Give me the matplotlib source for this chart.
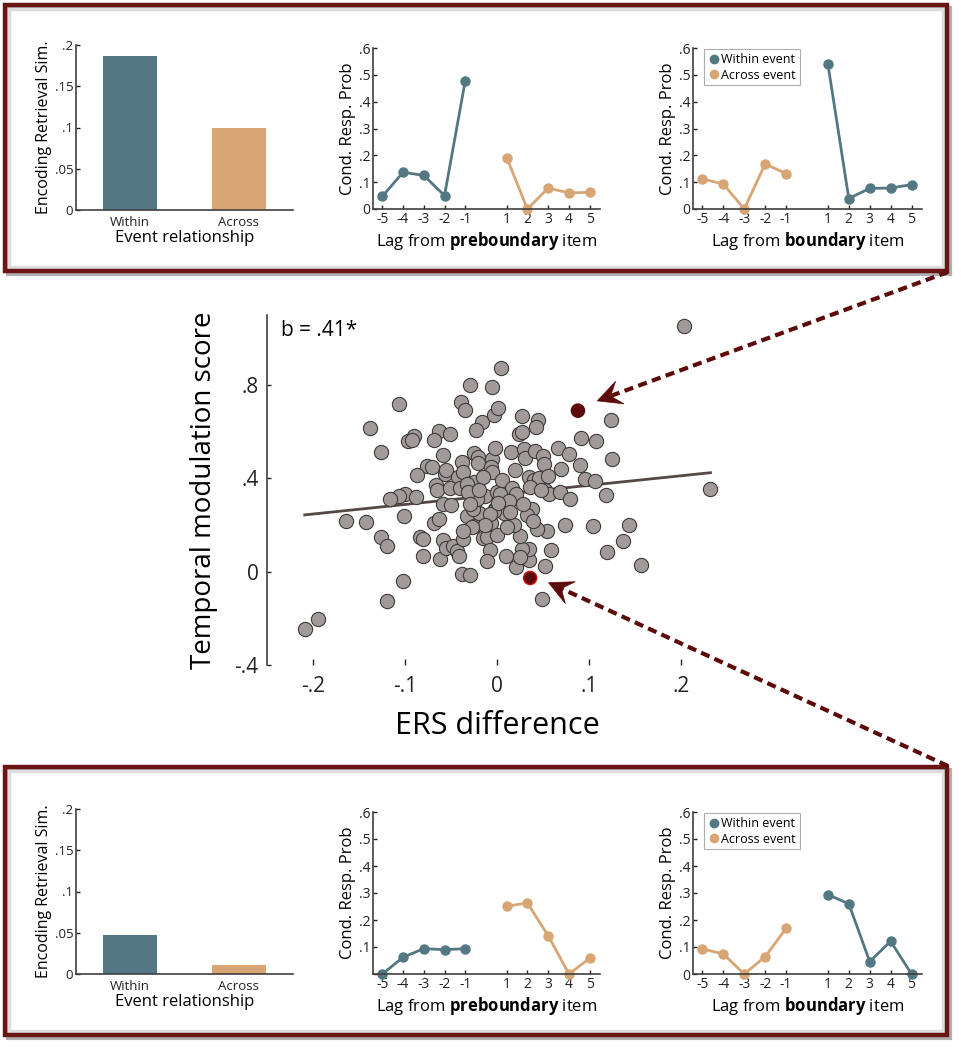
import matplotlib
matplotlib.use('Agg')
import matplotlib.pyplot as plt
from matplotlib.patches import Rectangle, Polygon
from matplotlib.lines import Line2D
from matplotlib.transforms import IdentityTransform
import numpy as np

plt.rcParams['font.family'] = ['Open Sans', 'DejaVu Sans']
plt.rcParams['mathtext.fontset'] = 'custom'
plt.rcParams['mathtext.rm'] = 'Open Sans'
plt.rcParams['mathtext.bf'] = 'Open Sans:bold'
plt.rcParams['axes.unicode_minus'] = False

W, H = 961, 1050

# ---- data ----
bar_labels = ['Within', 'Across']
ers_top = [0.187, 0.099]
ers_bottom = [0.047, 0.011]

lag_pre = [-5, -4, -3, -2, -1]
lag_post = [1, 2, 3, 4, 5]

# top row: preboundary CRP
crp_pre_within_top = [0.047, 0.137, 0.125, 0.050, 0.478]
crp_pre_across_top = [0.191, 0.000, 0.078, 0.060, 0.062]
# top row: boundary CRP
crp_bnd_across_top = [0.112, 0.093, 0.000, 0.168, 0.132]
crp_bnd_within_top = [0.540, 0.039, 0.077, 0.078, 0.091]

# bottom row
crp_pre_within_bot = [0.000, 0.062, 0.094, 0.090, 0.094]
crp_pre_across_bot = [0.251, 0.263, 0.142, 0.000, 0.058]
crp_bnd_across_bot = [0.093, 0.074, 0.000, 0.064, 0.169]
crp_bnd_within_bot = [0.294, 0.260, 0.046, 0.121, 0.000]

ers_diff = [-0.107, -0.138, -0.126, -0.029, -0.005, 0.004, -0.039, -0.035, -0.016, -0.023,
            -0.003, 0.001, -0.090, -0.097, -0.092, -0.063, -0.051, -0.069, -0.059, -0.038,
            -0.025, -0.021, -0.021, -0.005, -0.002, -0.007, -0.005, -0.076, -0.071, -0.087,
            -0.057, -0.055, -0.042, -0.037, -0.025, -0.066, -0.065, -0.051, -0.040, -0.030,
            -0.033, -0.100, -0.107, -0.088, -0.116, -0.022, -0.013, 0.000, -0.164, -0.142,
            -0.126, -0.120, -0.101, -0.084, -0.080, -0.080, -0.069, -0.063, -0.062, -0.059,
            -0.055, -0.048, -0.044, -0.041, -0.037, -0.038, -0.029, -0.102, -0.120, -0.195,
            -0.209, 0.027, 0.024, 0.045, 0.042, 0.027, -0.033, -0.025, -0.020, -0.026,
            -0.059, -0.050, -0.022, -0.007, -0.002, -0.015, -0.011, -0.008, -0.011, 0.000,
            0.124, 0.091, 0.108, 0.125, 0.066, 0.078, 0.070, 0.090, 0.096, 0.107,
            0.118, 0.232, 0.015, 0.029, 0.030, 0.041, 0.050, 0.051, 0.020, 0.005,
            0.035, 0.040, 0.046, 0.055, 0.036, 0.016, 0.003, 0.021, 0.052, 0.056,
            0.068, 0.079, 0.203, 0.143, 0.137, 0.157, 0.120, 0.104, 0.074, 0.049,
            0.052, 0.059, 0.021, 0.035, 0.035, 0.027, 0.025, 0.010, 0.054, 0.044,
            0.025, 0.019, 0.011, 0.038, 0.033, 0.039, 0.028, 0.013, 0.008, -0.003,
            -0.008, -0.013, -0.027, -0.031, 0.048, 0.001, -0.029, -0.037, 0.014, -0.015,
            -0.020]
tms = [0.717, 0.616, 0.513, 0.799, 0.790, 0.872, 0.726, 0.692, 0.642, 0.609,
       0.671, 0.700, 0.582, 0.559, 0.566, 0.604, 0.588, 0.563, 0.502, 0.470,
       0.509, 0.492, 0.466, 0.485, 0.528, 0.449, 0.427, 0.453, 0.449, 0.416,
       0.420, 0.434, 0.406, 0.427, 0.384, 0.370, 0.348, 0.358, 0.358, 0.341,
       0.377, 0.334, 0.323, 0.320, 0.310, 0.320, 0.323, 0.341, 0.216, 0.212,
       0.150, 0.112, 0.238, 0.148, 0.140, 0.069, 0.208, 0.227, 0.055, 0.136,
       0.102, 0.112, 0.090, 0.069, 0.140, -0.010, -0.013, -0.039, -0.125, -0.201,
       -0.244, 0.667, 0.589, 0.649, 0.618, 0.597, 0.237, 0.195, 0.251, 0.270,
       0.288, 0.287, 0.313, 0.209, 0.270, 0.143, 0.150, 0.093, 0.044, 0.158,
       0.652, 0.571, 0.559, 0.485, 0.532, 0.506, 0.442, 0.456, 0.399, 0.387,
       0.330, 0.353, 0.513, 0.525, 0.489, 0.516, 0.495, 0.460, 0.437, 0.394,
       0.406, 0.394, 0.403, 0.410, 0.363, 0.358, 0.334, 0.334, 0.348, 0.331,
       0.341, 0.313, 1.051, 0.198, 0.130, 0.030, 0.083, 0.195, 0.201, -0.118,
       0.026, 0.093, 0.019, 0.050, 0.098, 0.098, 0.062, 0.069, 0.176, 0.184,
       0.151, 0.198, 0.191, 0.270, 0.241, 0.219, 0.291, 0.302, 0.251, 0.262,
       0.248, 0.202, 0.190, 0.341, 0.351, 0.294, 0.291, 0.176, 0.255, 0.406,
       0.348]
# highlighted subjects (top / bottom example)
highlight_x = [0.088, 0.036]
highlight_y = [0.690, -0.027]
fit_slope = 0.41
fit_intercept = 0.329

c_within = '#537783'
c_across = '#d8a574'
c_dark = '#5c0a0a'
axc = '#404040'


def ax_px(left, top, right, bottom):
    return [left / W, 1 - bottom / H, (right - left) / W, (bottom - top) / H]


def style(ax, fs=9.5):
    for s in ['top', 'right']:
        ax.spines[s].set_visible(False)
    for s in ['left', 'bottom']:
        ax.spines[s].set_color(axc)
        ax.spines[s].set_linewidth(1.2)
    ax.tick_params(direction='in', length=3, width=1, colors='#222222', labelsize=fs, pad=2)


def fmt(v):
    s = ('%g' % v)
    return s.replace('0.', '.') if v != 0 else '0'


def bar_panel(rect, vals):
    ax = fig.add_axes(rect)
    ax.bar([1, 2], vals, width=0.5, color=[c_within, c_across])
    ax.set_xlim(0.5, 2.5)
    ax.set_ylim(0, 0.2)
    yt = [0, 0.05, 0.1, 0.15, 0.2]
    ax.set_yticks(yt)
    ax.set_yticklabels([fmt(v) for v in yt])
    ax.set_xticks([1, 2])
    ax.set_xticklabels(bar_labels)
    style(ax, fs=9.5)
    ax.tick_params(axis='x', length=0, pad=4)
    ax.set_ylabel('Encoding Retrieval Sim.', fontsize=11.5, labelpad=2)
    ax.set_xlabel('Event relationship', fontsize=12, labelpad=1)
    return ax


def crp_panel(rect, pre_vals, pre_col, post_vals, post_col, label, legend=False, show_zero=True):
    ax = fig.add_axes(rect)
    ax.plot(lag_pre, pre_vals, '-o', color=pre_col, lw=2, ms=6.5)
    ax.plot(lag_post, post_vals, '-o', color=post_col, lw=2, ms=6.5)
    ax.set_xlim(-5.45, 5.5)
    ax.set_ylim(0, 0.6)
    yt = [0, 0.1, 0.2, 0.3, 0.4, 0.5, 0.6]
    ax.set_yticks(yt)
    labs = [fmt(v) for v in yt]
    if not show_zero:
        labs[0] = ''
    ax.set_yticklabels(labs)
    ax.set_xticks(lag_pre + lag_post)
    style(ax, fs=10)
    ax.set_ylabel('Cond. Resp. Prob', fontsize=12, labelpad=2)
    ax.set_xlabel(label, fontsize=12, labelpad=2)
    for p in ax.lines:
        p.set_clip_on(False)
    if legend:
        h = [Line2D([], [], ls='', marker='o', color=c_within, ms=6),
             Line2D([], [], ls='', marker='o', color=c_across, ms=6)]
        lg = ax.legend(h, ['Within event', 'Across event'], loc='upper left',
                       bbox_to_anchor=(0.02, 1.03), fontsize=9, handletextpad=0.1,
                       handlelength=1.0, borderpad=0.3, labelspacing=0.2, fancybox=False)
        lg.get_frame().set_edgecolor('#999999')
        lg.get_frame().set_linewidth(0.8)
    return ax


fig = plt.figure(figsize=(W / 100, H / 100), dpi=100)

# frames around the example rows
for (l, t, r, b) in [(5, 5, 947, 271), (5, 767, 947, 1035)]:
    fig.patches.append(Rectangle((l / W + 3 / W, 1 - (b + 3) / H), (r - l) / W, (b - t) / H,
                                 transform=fig.transFigure, fill=False, ec='#b0b0b0', lw=3))
    fig.patches.append(Rectangle((l / W + 4 / W, 1 - (b - 4) / H), (r - l - 8) / W, (b - t - 8) / H,
                                 transform=fig.transFigure, fill=False, ec='#dddddd', lw=2.5))
    fig.patches.append(Rectangle((l / W, 1 - b / H), (r - l) / W, (b - t) / H,
                                 transform=fig.transFigure, fill=False, ec='#6b1414', lw=3.2))

lab_pre = r'Lag from $\bf{preboundary}$ item'
lab_bnd = r'Lag from $\bf{boundary}$ item'

bar_panel(ax_px(76, 45, 293, 210), ers_top)
crp_panel(ax_px(373, 48, 600, 209), crp_pre_within_top, c_within, crp_pre_across_top, c_across, lab_pre)
crp_panel(ax_px(693, 48, 922, 209), crp_bnd_across_top, c_across, crp_bnd_within_top, c_within, lab_bnd, legend=True)

bar_panel(ax_px(76, 809, 293, 974), ers_bottom)
crp_panel(ax_px(373, 812, 600, 974), crp_pre_within_bot, c_within, crp_pre_across_bot, c_across, lab_pre, show_zero=False)
crp_panel(ax_px(693, 812, 922, 974), crp_bnd_across_bot, c_across, crp_bnd_within_bot, c_within, lab_bnd, legend=True)

# main scatter
ax = fig.add_axes(ax_px(267, 315, 727, 665))
ax.scatter(ers_diff, tms, s=105, c='#a29a99', edgecolors='#3c3c3c', linewidths=0.8, zorder=3)
xf = np.array([min(ers_diff), max(ers_diff)])
ax.plot(xf, fit_intercept + fit_slope * xf, color='#574848', lw=2, zorder=2)
ax.scatter(highlight_x, highlight_y, s=90, c=c_dark, edgecolors=[c_dark, '#d01010'], linewidths=1, zorder=4)
ax.set_xlim(-0.25, 0.25)
ax.set_ylim(-0.4, 1.1)
xt = [-0.2, -0.1, 0, 0.1, 0.2]
ax.set_xticks(xt)
ax.set_xticklabels(['-.2', '-.1', '0', '.1', '.2'])
yt = [-0.4, 0, 0.4, 0.8]
ax.set_yticks(yt)
ax.set_yticklabels(['-.4', '0', '.4', '.8'])
style(ax, fs=15)
ax.spines['bottom'].set_visible(False)
ax.tick_params(axis='x', length=4, pad=8)
ax.tick_params(axis='y', pad=6)
ax.set_xlabel('ERS difference', fontsize=22, labelpad=10)
ax.set_ylabel('Temporal modulation score', fontsize=20, labelpad=12)
ax.text(0.03, 0.985, 'b = .41*', transform=ax.transAxes, fontsize=15, va='top', ha='left')

# dashed pointers from example boxes to highlighted subjects
tails = [(948, H - 272), (948, H - 766)]
heads = [(highlight_x[0] + 0.021, highlight_y[0] + 0.042), (highlight_x[1] + 0.020, highlight_y[1] - 0.020)]
for tail, head in zip(tails, heads):
    tip = ax.transData.transform(head)
    tail = np.array(tail, dtype=float)
    u = tail - tip
    u = u / np.hypot(*u)
    n = np.array([-u[1], u[0]])
    notch = tip + 14 * u
    fig.add_artist(Line2D([tail[0], notch[0]], [tail[1], notch[1]], transform=IdentityTransform(),
                          color=c_dark, lw=3, ls=(0, (2.2, 1.3))))
    wing = [tip, tip + 24 * u + 12 * n, notch, tip + 24 * u - 12 * n]
    fig.add_artist(Polygon(wing, closed=True, transform=IdentityTransform(),
                           fc=c_dark, ec=c_dark, lw=0.5))

fig.savefig('out.png', dpi=100)
